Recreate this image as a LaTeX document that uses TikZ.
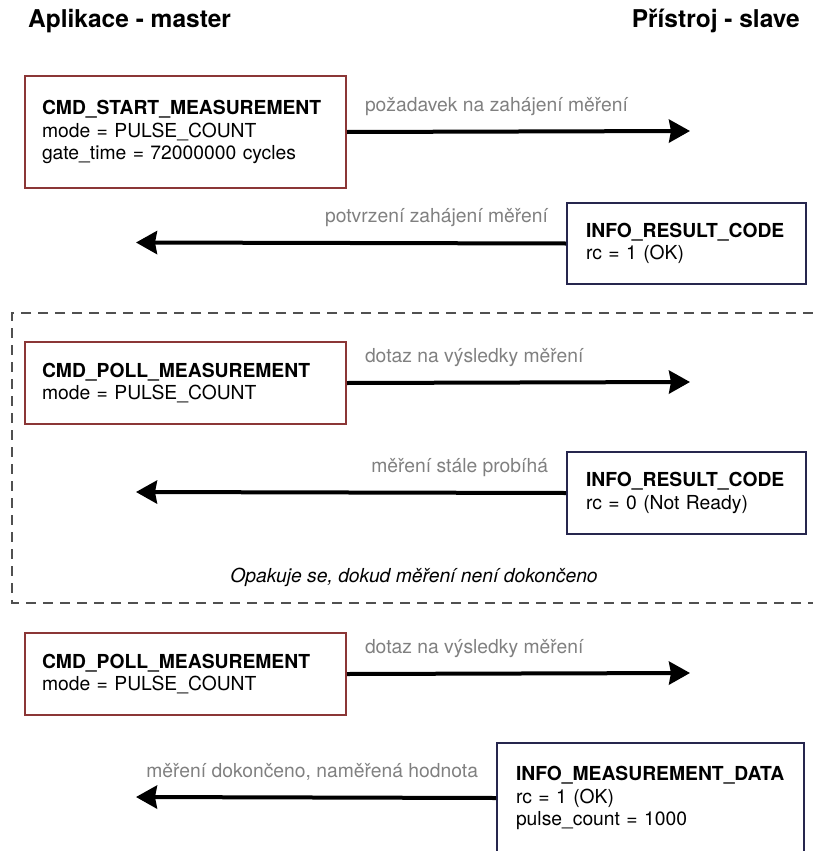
\documentclass[tikz,border=0pt]{standalone}
\usepackage{fontspec}
\setmainfont{TeX Gyre Heros}
\usepackage{tikz}
\usetikzlibrary{arrows.meta,positioning}
\definecolor{cmdred}{RGB}{139,54,54}
\definecolor{infonavy}{RGB}{38,38,78}
\definecolor{msggray}{RGB}{128,128,128}
\definecolor{loopgray}{RGB}{80,80,80}

\begin{document}
\begin{tikzpicture}
              [x=1pt,y=-1pt,
                every node/.style={font=\fontsize{19.3}{22.5}\selectfont,inner sep=0pt},
                head/.style={font=\fontsize{24.5}{28}\selectfont\bfseries},
                box/.style={draw,line width=2pt,fill=white,anchor=north west,align=left,inner xsep=17pt},
                cmd/.style={box,draw=cmdred,minimum width=321pt,text width=287pt},
                info/.style={box,draw=infonavy,minimum width=237pt,text width=201pt,inner xsep=19pt},
                msg/.style={line width=4pt,-{Stealth[length=21pt,width=23pt,inset=2pt]}},
                lbl/.style={text=msggray}]
              \useasboundingbox (0,0) rectangle (813,851);
              \node[head,anchor=base west] (master) at (28,28) {Aplikace - master};
              \node[head,anchor=base east] (slave) at (800,28) {Přístroj - slave};
              % repeated polling block
              \draw[loopgray,line width=2.5pt,dash pattern=on 10pt off 7pt]
                (830,313) -- (12,313) -- (12,603) -- (830,603);
              \node[font=\fontsize{19.3}{22.5}\selectfont\itshape] (note) at (414,577) {Opakuje se, dokud měření není dokončeno};
              \node[cmd,minimum height=112pt] (start) at (24,75)
                {\textbf{CMD\_START\_MEASUREMENT}\\mode = PULSE\_COUNT\\gate\_time = 72000000 cycles};
              \node[info,minimum height=81pt] (ack) at (566,202)
                {\textbf{INFO\_RESULT\_CODE}\\rc = 1 (OK)};
              \node[cmd,minimum height=82pt] (poll) at (24,341)
                {\textbf{CMD\_POLL\_MEASUREMENT}\\mode = PULSE\_COUNT};
              \node[info,minimum height=82pt] (busy) at (566,451)
                {\textbf{INFO\_RESULT\_CODE}\\rc = 0 (Not Ready)};
              \node[cmd,minimum height=82pt] (pollend) at (24,632)
                {\textbf{CMD\_POLL\_MEASUREMENT}\\mode = PULSE\_COUNT};
              \node[info,minimum height=110pt,minimum width=307pt,text width=269pt] (data) at (496,742)
                {\textbf{INFO\_MEASUREMENT\_DATA}\\rc = 1 (OK)\\pulse\_count = 1000};
              \coordinate (e1) at (690,131);
              \coordinate (e2) at (136,242.5);
              \coordinate (e3) at (690,382);
              \coordinate (e4) at (136,492);
              \coordinate (e5) at (690,673);
              \coordinate (e6) at (136,797);
              \foreach \from/\to/\txt in {start/e1/{požadavek na zahájení měření},
                  poll/e3/{dotaz na výsledky měření},pollend/e5/{dotaz na výsledky měření}}
              \draw[msg] (\from.east) -- node[lbl,pos=0,anchor=base west,xshift=16pt,yshift=21pt] {\txt} (\to);
              \foreach \from/\to/\txt in {ack/e2/{potvrzení zahájení měření},
                  busy/e4/{měření stále probíhá},data/e6/{měření dokončeno, naměřená hodnota}}
              \draw[msg] (\from.west) -- node[lbl,pos=0,anchor=base east,xshift=-16pt,yshift=21pt] {\txt} (\to);
            \end{tikzpicture}
\end{document}
